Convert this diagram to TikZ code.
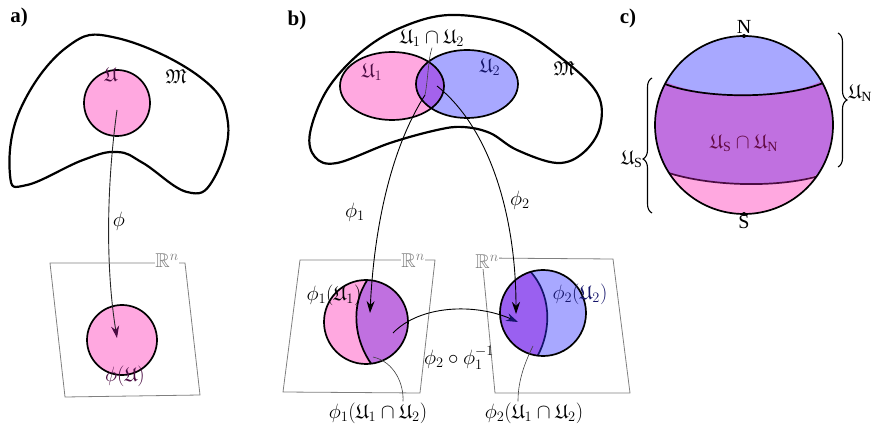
\documentclass[tikz,border=0pt]{standalone}
\usepackage{amssymb}
\usepackage{fontspec}
\setmainfont{Liberation Serif}
\usetikzlibrary{arrows.meta,decorations.pathreplacing}
\definecolor{upink}{HTML}{FFA8E0}
\definecolor{ublue}{HTML}{A8A8FF}
\definecolor{upurple}{HTML}{C070E0}
\definecolor{uviolet}{HTML}{A462EC}
\definecolor{uindigo}{HTML}{9A60F0}
\definecolor{udark}{HTML}{4A0C42}
\definecolor{unavy}{HTML}{14146A}
\begin{document}
\begin{tikzpicture}[x=1pt,y=-1pt,
  lbl/.style={font=\fontsize{20}{24}\selectfont, inner sep=1pt},
  panel/.style={font=\fontsize{21}{25}\selectfont\bfseries, inner sep=0pt},
  chart/.style={draw=black!50, line width=.8pt},
  rlbl/.style={lbl, fill=white, text=black!50, inner sep=.5pt},
  bord/.style={line width=1.7pt},
  map/.style={-{Stealth[length=12pt,width=8pt]}, line width=.9pt},
  ptr/.style={draw=black!75, line width=.6pt}]
\useasboundingbox (0,0) rectangle (881,430);

% a) one chart
\node[panel] (la) at (19,17) {a)};
\draw[line width=2.2pt] plot[smooth cycle,tension=.7]
	coordinates {(20,110)(67,47)(117,38)(200,77)(228,123)(213,180)
	(187,192)(143,163)(117,152)(83,160)(27,185)(10,175)};
\draw[chart] (50,263) -- (185,263) -- (200,395) -- (65,397) -- cycle;
\node[rlbl] (ra) at (167,261) {$\mathbb{R}^n$};
\draw[bord, fill=upink] (117,103) circle[radius=33];
\draw[bord, fill=upink] (122,340) circle[radius=35];
\node[lbl, text=udark] (ua) at (111,75) {$\mathfrak{U}$};
\node[lbl] (ma) at (176,77) {$\mathfrak{M}$};
\node[lbl, text=udark] (pua) at (125,376) {$\phi(\mathfrak{U})$};
\coordinate (sa) at (117,110);
\coordinate (ta) at (117,338);
\draw[-{Stealth[length=12pt,width=8pt,color=udark]}, line width=.9pt, black!85]
	(sa) .. controls (106,190) and (106,270) .. (ta);
\node[lbl] (phia) at (119,221) {$\phi$};

% b) two charts
\node[panel] (lb) at (297,20) {b)};
\draw[line width=2.2pt] plot[smooth cycle,tension=.6]
	coordinates {(310,133)(327,90)(360,53)(400,28)(450,15)(510,25)(560,57)
	(597,93)(600,127)(583,153)(557,163)(517,150)(490,133)(463,127)
	(437,130)(390,143)(337,163)(315,157)};
\fill[upink] (392,86) ellipse[x radius=52, y radius=34];
\fill[ublue] (467,84) ellipse[x radius=51, y radius=34];
\begin{scope}
  \clip (392,86) ellipse[x radius=52, y radius=34];
  \fill[uviolet] (467,84) ellipse[x radius=51, y radius=34];
\end{scope}
\draw[bord] (392,86) ellipse[x radius=52, y radius=34];
\draw[bord] (467,84) ellipse[x radius=51, y radius=34];
\node[lbl, text=udark] (u1) at (372,72) {$\mathfrak{U}_1$};
\node[lbl, text=unavy] (u2) at (490,67) {$\mathfrak{U}_2$};
\node[lbl] (mb) at (564,69) {$\mathfrak{M}$};
\node[lbl] (u12) at (432,38) {$\mathfrak{U}_1\cap\mathfrak{U}_2$};

\draw[chart] (300,260) -- (435,260) -- (420,393) -- (283,392) -- cycle;
\draw[chart] (482,258) -- (613,259) -- (630,393) -- (495,393) -- cycle;
\node[rlbl] (r1) at (413,261) {$\mathbb{R}^n$};
\node[rlbl] (r2) at (487,262) {$\mathbb{R}^n$};

\fill[upink] (366,322) circle[radius=42];
\begin{scope}
  \clip (366,322) circle[radius=42];
  \fill[upurple] (368,279) .. controls (350,305) and (354,340) .. (372,365)
	-- (420,365) -- (420,279) -- cycle;
  \draw[bord] (368,279) .. controls (350,305) and (354,340) .. (372,365);
\end{scope}
\draw[bord] (366,322) circle[radius=42];
\fill[ublue] (543,313) circle[radius=43];
\begin{scope}
  \clip (543,313) circle[radius=43];
  \fill[uindigo] (528,269) .. controls (552,293) and (552,330) .. (537,357)
	-- (495,357) -- (495,269) -- cycle;
  \draw[bord, unavy] (528,269) .. controls (552,293) and (552,330) .. (537,357);
\end{scope}
\draw[bord] (543,313) circle[radius=43];
\node[lbl] (p1) at (334,295) {$\phi_1(\mathfrak{U}_1)$};
\node[lbl, text=unavy] (p2) at (580,294) {$\phi_2(\mathfrak{U}_2)$};

\coordinate (s12) at (425,95);
\coordinate (s2) at (437,86);
\coordinate (t1) at (370,313);
\coordinate (t2) at (516,314);
\draw[ptr] (u12.south) .. controls (428,60) and (428,80) .. (s12);
\draw[map] (s12) .. controls (390,150) and (374,230) .. (t1);
\draw[map] (s2) .. controls (492,130) and (516,220) .. (t2);
\node[lbl] (phi1) at (355,212) {$\phi_1$};
\node[lbl] (phi2) at (520,200) {$\phi_2$};

\coordinate (s3) at (393,333);
\coordinate (t3) at (518,322);
\draw[-{Stealth[length=12pt,width=8pt,color=unavy]}, line width=.9pt]
	(s3) .. controls (420,305) and (475,303) .. (t3);
\node[lbl] (tr) at (459,358) {$\phi_2\circ\phi_1^{-1}$};

\node[lbl] (q1) at (378,413) {$\phi_1(\mathfrak{U}_1\cap\mathfrak{U}_2)$};
\node[lbl] (q2) at (534,413) {$\phi_2(\mathfrak{U}_1\cap\mathfrak{U}_2)$};
\coordinate (g1) at (373,357);
\coordinate (g2) at (533,346);
\draw[ptr] (g1) .. controls (395,362) and (404,385) .. ([xshift=25pt]q1.north);
\draw[ptr] (g2) .. controls (522,368) and (518,385) .. ([xshift=-16pt]q2.north);

% c) sphere with two charts
\node[panel] (lc) at (628,18) {c)};
\begin{scope}
  \clip (744,125) circle[radius=89];
  \fill[upurple] (650,30) rectangle (840,220);
  \fill[ublue] (650,30) -- (840,30) -- (840,80) -- (823,80)
	.. controls (790,99) and (700,99) .. (667,82) -- (650,82) -- cycle;
  \fill[upink] (650,220) -- (650,168) -- (657,168)
	.. controls (700,188) and (790,188) .. (822,173) -- (840,173) -- (840,220) -- cycle;
  \draw[bord] (660,82) .. controls (700,100) and (790,100) .. (830,80);
  \draw[bord, udark] (650,166) .. controls (700,189) and (790,189) .. (830,172);
\end{scope}
\draw[bord] (744,125) circle[radius=89];
\coordinate (np) at (744,36);
\coordinate (sp) at (744,214);
\fill (np) circle[radius=2];
\fill (sp) circle[radius=2];
\node[lbl, above=1pt] (nl) at (np) {N};
\node[lbl, below=0pt] (sl) at (sp) {S};
\node[lbl, text=udark!80!purple] (usn) at (744,143)
	{$\mathfrak{U}_{\mathrm{S}}\cap\mathfrak{U}_{\mathrm{N}}$};
\coordinate (bn1) at (838,33);
\coordinate (bn2) at (838,167);
\coordinate (bs1) at (652,213);
\coordinate (bs2) at (652,78);
\draw[line width=1.1pt, decorate, decoration={brace, amplitude=9pt}] (bn1) -- (bn2)
	node[pos=.45, right=9pt, lbl] (un) {$\mathfrak{U}_{\mathrm{N}}$};
\draw[line width=1.1pt, decorate, decoration={brace, amplitude=9pt, aspect=.4}] (bs1) -- (bs2)
	node[pos=.4, left=8pt, lbl] (us) {$\mathfrak{U}_{\mathrm{S}}$};
\end{tikzpicture}
\end{document}
